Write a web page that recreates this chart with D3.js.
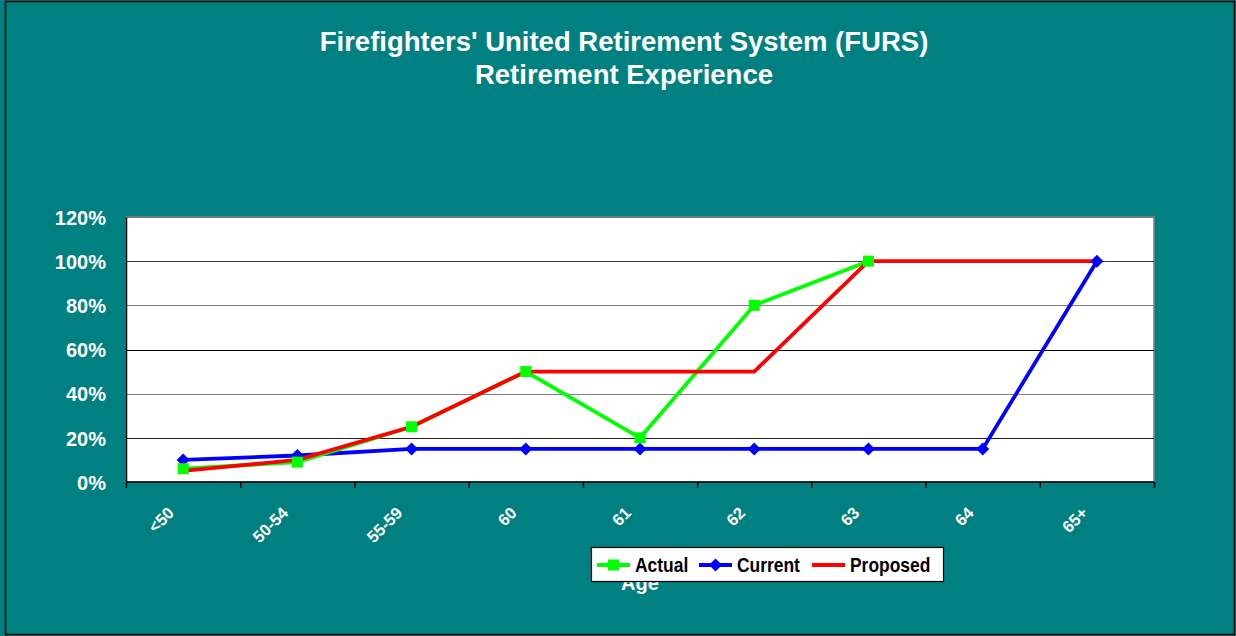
<!DOCTYPE html>
<html><head><meta charset="utf-8">
<script src="https://cdn.jsdelivr.net/npm/d3@7"></script>
<style>body{margin:0;background:#008080;}svg{display:block;font-family:"Liberation Sans",Arial,sans-serif;}</style>
</head><body><svg id="c" width="1236" height="636"></svg>
<script>
const categories = ["<50","50-54","55-59","60","61","62","63","64","65+"];
const actual   = [0.06,0.09,0.25,0.50,0.20,0.80,1.00,null,null];
const current  = [0.10,0.12,0.15,0.15,0.15,0.15,0.15,0.15,1.00];
const proposed = [0.05,0.10,0.25,0.50,0.50,0.50,1.00,1.00,1.00];
const yTicks = [0,0.2,0.4,0.6,0.8,1.0,1.2];
const titleLines = ["Firefighters' United Retirement System (FURS)","Retirement Experience"];

const svg = d3.select("#c");
svg.append("rect").attr("x",5.5).attr("y",1.5).attr("width",1229).attr("height",633)
  .attr("fill","#008080").attr("stroke","#000").attr("stroke-width",1.5);

const L=126,R=1154,T=217,B=482;
const x = d3.scaleBand().domain(categories).range([L,R]);
const y = d3.scaleLinear().domain([0,1.2]).range([B,T]);

svg.append("rect").attr("x",L).attr("y",T).attr("width",R-L).attr("height",B-T)
  .attr("fill","#fff").attr("stroke","#808080").attr("stroke-width",1.5);

const gridCols = ["#000","#202020","#808080","#000","#808080","#404040","#808080"];
yTicks.forEach((t,i)=>{ if(i>0) svg.append("line").attr("x1",L).attr("x2",R)
  .attr("y1",Math.round(y(t))+0.5).attr("y2",Math.round(y(t))+0.5)
  .attr("stroke",gridCols[i]).attr("stroke-width",1.2); });

// axes
const yAxis = svg.append("g").attr("transform",`translate(${L},0)`)
  .call(d3.axisLeft(y).tickValues(yTicks).tickFormat(d3.format(".0%")).tickSize(0).tickPadding(20));
yAxis.select(".domain").attr("stroke","#000").attr("stroke-width",1.5);
yAxis.selectAll("text").attr("fill","#fff").attr("font-size",20).attr("font-weight","bold")
  .attr("font-family","'Liberation Sans',Arial,sans-serif").attr("dy","0.36em");

const xb = d3.scaleLinear().domain([0,categories.length]).range([L,R]);
const xAxis = svg.append("g").attr("transform",`translate(0,${B})`)
  .call(d3.axisBottom(xb).tickValues(d3.range(categories.length+1)).tickSize(6).tickFormat(""));
xAxis.select(".domain").attr("stroke","#000").attr("stroke-width",1.5).attr("d",`M${L},0H${R}`);
xAxis.selectAll(".tick line").attr("stroke","#000").attr("stroke-width",1.5);

svg.append("g").selectAll("text").data(categories).join("text")
  .attr("transform",d=>`translate(${x(d)+x.bandwidth()/2-8},${B+32}) rotate(-45)`)
  .attr("text-anchor","end").attr("fill","#fff").attr("font-size",16.5).attr("font-weight","bold")
  .text(d=>d);

// axis title (partly hidden by legend)
svg.append("text").attr("x",(L+R)/2).attr("y",590).attr("text-anchor","middle")
  .attr("fill","#fff").attr("font-size",20).attr("font-weight","bold").text("Age");

// series
const series = [
  {name:"Actual", values:actual, color:"#00ff00", marker:"square"},
  {name:"Current", values:current, color:"#0000ff", marker:"diamond"},
  {name:"Proposed", values:proposed, color:"#ff0000", marker:null}
];
const line = d3.line().defined(d=>d.v!=null).x(d=>x(d.c)+x.bandwidth()/2).y(d=>y(d.v));
function drawMarker(g,type,cx,cy,color){
  if(type==="square") g.append("rect").attr("x",cx-5.5).attr("y",cy-5.5).attr("width",11).attr("height",11).attr("fill",color);
  else if(type==="diamond") g.append("path").attr("d",`M${cx},${cy-6.5}L${cx+6.5},${cy}L${cx},${cy+6.5}L${cx-6.5},${cy}Z`).attr("fill",color);
}
const order = [series[1], series[0], series[2]];
order.forEach(s=>{
  const pts = categories.map((c,i)=>({c,v:s.values[i]}));
  svg.append("path").datum(pts).attr("d",line).attr("fill","none").attr("stroke",s.color)
    .attr("stroke-width",3.8).attr("stroke-linejoin","miter");
});
order.forEach(s=>{
  const g = svg.append("g");
  categories.forEach((c,i)=>{ const v=s.values[i]; if(v!=null && s.marker) drawMarker(g,s.marker,x(c)+x.bandwidth()/2,y(v),s.color); });
});

// legend
const lg = svg.append("g");
lg.append("rect").attr("x",591.5).attr("y",547.5).attr("width",352).attr("height",34)
  .attr("fill","#fff").attr("stroke","#000").attr("stroke-width",1.2);
const lx = [597, 699, 812];
series.forEach((s,i)=>{
  const x0 = lx[i];
  lg.append("line").attr("x1",x0).attr("x2",x0+33).attr("y1",565).attr("y2",565).attr("stroke",s.color).attr("stroke-width",3.8);
  if(s.marker) drawMarker(lg,s.marker,x0+16.5,565,s.color);
  const t = lg.append("text").attr("x",x0+38).attr("y",572).attr("fill","#000").attr("font-size",20.5)
    .attr("font-weight","bold").text(s.name);
  const w = t.node().getComputedTextLength();
  t.attr("textLength",w*0.85).attr("lengthAdjust","spacingAndGlyphs");
});

// title
svg.append("g").selectAll("text").data(titleLines).join("text")
  .attr("x",624).attr("y",(d,i)=>51+i*33).attr("text-anchor","middle").attr("fill","#fff")
  .attr("font-size",27.5).attr("font-weight","bold").text(d=>d);
</script></body></html>
